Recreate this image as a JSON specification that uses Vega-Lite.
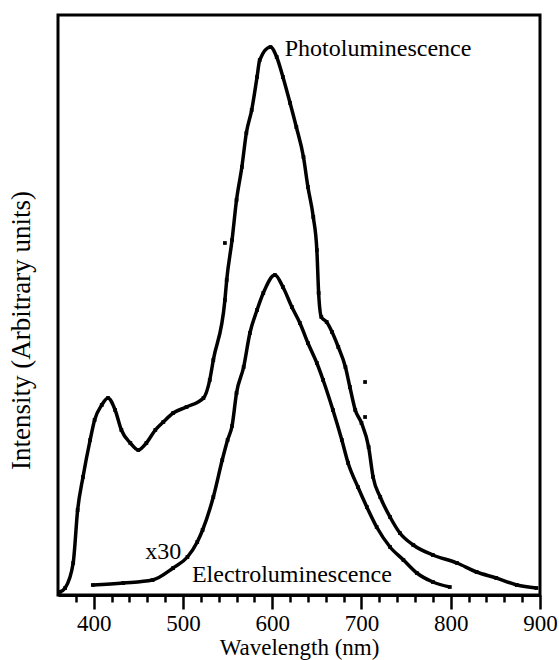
{
  "$schema": "https://vega.github.io/schema/vega-lite/v6.json",
  "width": 482,
  "height": 580,
  "autosize": {"type": "none"},
  "padding": {"left": 58, "top": 15, "right": 19, "bottom": 65},
  "background": "white",
  "view": {"stroke": "black", "strokeWidth": 3},
  "config": {"font": "Liberation Serif"},
  "datasets": {
    "curves": [
      {"series": "PL", "wl": 362, "intensity": 0},
      {"series": "PL", "wl": 368, "intensity": 4},
      {"series": "PL", "wl": 377, "intensity": 29},
      {"series": "PL", "wl": 382, "intensity": 82},
      {"series": "PL", "wl": 388, "intensity": 115},
      {"series": "PL", "wl": 396, "intensity": 152},
      {"series": "PL", "wl": 401, "intensity": 172},
      {"series": "PL", "wl": 409, "intensity": 187},
      {"series": "PL", "wl": 416, "intensity": 194},
      {"series": "PL", "wl": 424, "intensity": 182},
      {"series": "PL", "wl": 431, "intensity": 162},
      {"series": "PL", "wl": 441, "intensity": 149},
      {"series": "PL", "wl": 450, "intensity": 142},
      {"series": "PL", "wl": 459, "intensity": 149},
      {"series": "PL", "wl": 469, "intensity": 162},
      {"series": "PL", "wl": 478, "intensity": 170},
      {"series": "PL", "wl": 489, "intensity": 179},
      {"series": "PL", "wl": 504, "intensity": 185},
      {"series": "PL", "wl": 523, "intensity": 194},
      {"series": "PL", "wl": 530, "intensity": 212},
      {"series": "PL", "wl": 534, "intensity": 232},
      {"series": "PL", "wl": 547, "intensity": 292},
      {"series": "PL", "wl": 549, "intensity": 312},
      {"series": "PL", "wl": 555, "intensity": 352},
      {"series": "PL", "wl": 560, "intensity": 392},
      {"series": "PL", "wl": 566, "intensity": 425},
      {"series": "PL", "wl": 571, "intensity": 459},
      {"series": "PL", "wl": 577, "intensity": 482},
      {"series": "PL", "wl": 583, "intensity": 515},
      {"series": "PL", "wl": 586, "intensity": 532},
      {"series": "PL", "wl": 598, "intensity": 545},
      {"series": "PL", "wl": 605, "intensity": 535},
      {"series": "PL", "wl": 612, "intensity": 515},
      {"series": "PL", "wl": 620, "intensity": 489},
      {"series": "PL", "wl": 627, "intensity": 465},
      {"series": "PL", "wl": 635, "intensity": 435},
      {"series": "PL", "wl": 640, "intensity": 405},
      {"series": "PL", "wl": 646, "intensity": 375},
      {"series": "PL", "wl": 650, "intensity": 342},
      {"series": "PL", "wl": 652, "intensity": 299},
      {"series": "PL", "wl": 655, "intensity": 275},
      {"series": "PL", "wl": 661, "intensity": 270},
      {"series": "PL", "wl": 667, "intensity": 260},
      {"series": "PL", "wl": 674, "intensity": 245},
      {"series": "PL", "wl": 682, "intensity": 225},
      {"series": "PL", "wl": 687, "intensity": 205},
      {"series": "PL", "wl": 693, "intensity": 182},
      {"series": "PL", "wl": 700, "intensity": 169},
      {"series": "PL", "wl": 708, "intensity": 145},
      {"series": "PL", "wl": 713, "intensity": 115},
      {"series": "PL", "wl": 721, "intensity": 95},
      {"series": "PL", "wl": 732, "intensity": 75},
      {"series": "PL", "wl": 743, "intensity": 59},
      {"series": "PL", "wl": 758, "intensity": 47},
      {"series": "PL", "wl": 780, "intensity": 37},
      {"series": "PL", "wl": 807, "intensity": 29},
      {"series": "PL", "wl": 829, "intensity": 20},
      {"series": "PL", "wl": 851, "intensity": 14},
      {"series": "PL", "wl": 874, "intensity": 7},
      {"series": "PL", "wl": 896, "intensity": 4},
      {"series": "EL", "wl": 399, "intensity": 7},
      {"series": "EL", "wl": 433, "intensity": 9},
      {"series": "EL", "wl": 466, "intensity": 12},
      {"series": "EL", "wl": 489, "intensity": 24},
      {"series": "EL", "wl": 505, "intensity": 35},
      {"series": "EL", "wl": 516, "intensity": 50},
      {"series": "EL", "wl": 522, "intensity": 62},
      {"series": "EL", "wl": 534, "intensity": 95},
      {"series": "EL", "wl": 544, "intensity": 132},
      {"series": "EL", "wl": 550, "intensity": 152},
      {"series": "EL", "wl": 555, "intensity": 166},
      {"series": "EL", "wl": 560, "intensity": 199},
      {"series": "EL", "wl": 568, "intensity": 225},
      {"series": "EL", "wl": 575, "intensity": 259},
      {"series": "EL", "wl": 583, "intensity": 282},
      {"series": "EL", "wl": 590, "intensity": 299},
      {"series": "EL", "wl": 603, "intensity": 317},
      {"series": "EL", "wl": 612, "intensity": 305},
      {"series": "EL", "wl": 622, "intensity": 285},
      {"series": "EL", "wl": 631, "intensity": 269},
      {"series": "EL", "wl": 640, "intensity": 249},
      {"series": "EL", "wl": 650, "intensity": 229},
      {"series": "EL", "wl": 657, "intensity": 212},
      {"series": "EL", "wl": 668, "intensity": 182},
      {"series": "EL", "wl": 678, "intensity": 152},
      {"series": "EL", "wl": 685, "intensity": 129},
      {"series": "EL", "wl": 696, "intensity": 105},
      {"series": "EL", "wl": 706, "intensity": 85},
      {"series": "EL", "wl": 717, "intensity": 65},
      {"series": "EL", "wl": 732, "intensity": 45},
      {"series": "EL", "wl": 747, "intensity": 32},
      {"series": "EL", "wl": 762, "intensity": 19},
      {"series": "EL", "wl": 780, "intensity": 10},
      {"series": "EL", "wl": 799, "intensity": 5}
    ],
    "strays": [
      {"wl": 547, "intensity": 349},
      {"wl": 704, "intensity": 210},
      {"wl": 704, "intensity": 175}
    ],
    "leftLabels": [
      {"wl": 614, "intensity": 543, "text": "Photoluminescence"}
    ],
    "centerLabels": [
      {"wl": 622, "intensity": 17, "text": "Electroluminescence"},
      {"wl": 478, "intensity": 40, "text": "x30"}
    ]
  },
  "layer": [
    {
      "data": {"name": "curves"},
      "mark": {"type": "line", "color": "black", "strokeWidth": 3.5, "interpolate": "monotone"},
      "encoding": {
        "x": {
          "field": "wl", "type": "quantitative",
          "scale": {"domain": [360, 900], "nice": false, "zero": false},
          "axis": {
            "title": "Wavelength (nm)",
            "values": [380, 400, 420, 440, 460, 480, 500, 520, 540, 560, 580, 600, 620, 640, 660, 680, 700, 720, 740, 760, 780, 800, 820, 840, 860, 880, 900],
            "tickCount": 40,
            "labelExpr": "datum.value % 100 === 0 ? datum.label : ''",
            "labelOverlap": false,
            "labelFlush": false,
            "grid": false,
            "domain": true, "domainColor": "black", "domainWidth": 3,
            "ticks": true, "tickColor": "black", "tickWidth": 2.5,
            "tickSize": {"condition": {"test": "datum.value % 100 === 0", "value": 14}, "value": 7},
            "labelFont": "Liberation Serif", "labelFontSize": 23, "labelColor": "black", "labelPadding": 3,
            "titleFont": "Liberation Serif", "titleFontSize": 23, "titleFontWeight": "normal", "titleColor": "black", "titlePadding": 1
          }
        },
        "y": {
          "field": "intensity", "type": "quantitative",
          "scale": {"domain": [-3, 577], "nice": false, "zero": false},
          "axis": {
            "title": "Intensity (Arbitrary units)",
            "labels": false, "ticks": false, "domain": false, "grid": false,
            "titleFont": "Liberation Serif", "titleFontSize": 27, "titleFontWeight": "normal", "titleColor": "black",
            "titleX": -37, "titleY": 315, "titleBaseline": "middle", "titleAngle": -90, "titleAlign": "center"
          }
        },
        "detail": {"field": "series"}
      }
    },
    {
      "data": {"name": "curves"},
      "mark": {"type": "square", "color": "black", "size": 14, "opacity": 1},
      "encoding": {
        "x": {"field": "wl", "type": "quantitative"},
        "y": {"field": "intensity", "type": "quantitative"}
      }
    },
    {
      "data": {"name": "strays"},
      "mark": {"type": "square", "color": "black", "size": 14, "opacity": 1},
      "encoding": {
        "x": {"field": "wl", "type": "quantitative"},
        "y": {"field": "intensity", "type": "quantitative"}
      }
    },
    {
      "data": {"name": "leftLabels"},
      "mark": {"type": "text", "font": "Liberation Serif", "fontSize": 24, "color": "black", "baseline": "middle", "align": "left"},
      "encoding": {
        "x": {"field": "wl", "type": "quantitative"},
        "y": {"field": "intensity", "type": "quantitative"},
        "text": {"field": "text"}
      }
    },
    {
      "data": {"name": "centerLabels"},
      "mark": {"type": "text", "font": "Liberation Serif", "fontSize": 24, "color": "black", "baseline": "middle", "align": "center"},
      "encoding": {
        "x": {"field": "wl", "type": "quantitative"},
        "y": {"field": "intensity", "type": "quantitative"},
        "text": {"field": "text"}
      }
    }
  ]
}
